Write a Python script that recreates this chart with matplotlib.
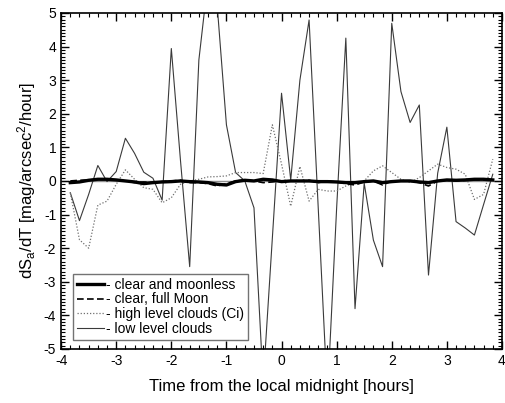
import numpy as np
import matplotlib
matplotlib.use("Agg")
import matplotlib.pyplot as plt
from matplotlib.ticker import MultipleLocator

# =====================================================================
# DADOS - amostras a cada 10 min
# =====================================================================
minutes = [-230, -220, -210, -200, -190, -180, -170, -160, -150, -140,
           -130, -120, -110, -100, -90, -80, -70, -60, -50, -40,
           -30, -20, -10, 0, 10, 20, 30, 40, 50, 60,
           70, 80, 90, 100, 110, 120, 130, 140, 150, 160,
           170, 180, 190, 200, 210, 220, 230]

clear_moonless = [-0.05, -0.03, 0.02, 0.05, 0.05, 0.03, 0.0, -0.03, -0.08, -0.05,
                  -0.03, -0.02, 0.0, -0.02, -0.03, -0.05, -0.1, -0.12, -0.02, 0.02,
                  0.0, 0.05, 0.03, -0.02, 0.0, 0.0, 0.0, -0.02, -0.02, -0.03,
                  -0.05, -0.05, -0.02, 0.0, -0.05, -0.02, 0.0, 0.0, -0.03, -0.05,
                  0.0, 0.03, 0.02, 0.03, 0.05, 0.05, 0.03]

clear_full_moon = [0.0, 0.02, 0.03, 0.05, 0.05, 0.03, 0.0, -0.05, -0.03, -0.05,
                   -0.02, 0.0, 0.02, -0.05, -0.05, -0.08, -0.15, -0.08, 0.0, 0.03,
                   0.0, -0.05, -0.03, 0.0, 0.0, 0.0, 0.02, -0.05, 0.0, -0.03,
                   -0.08, -0.12, -0.03, 0.0, -0.12, 0.0, 0.0, 0.0, -0.05, -0.15,
                   0.0, 0.02, 0.0, 0.02, 0.03, 0.03, 0.02]

high_clouds = [-0.35, -1.75, -2.0, -0.72, -0.6, -0.1, 0.33, 0.05, -0.2, -0.25,
               -0.65, -0.5, -0.1, 0.0, 0.05, 0.12, 0.13, 0.15, 0.25, 0.25,
               0.25, 0.22, 1.67, 0.5, -0.75, 0.43, -0.6, -0.25, -0.3, -0.3,
               -0.15, -0.05, 0.0, 0.3, 0.45, 0.25, 0.05, -0.05, 0.1, 0.3,
               0.5, 0.4, 0.35, 0.2, -0.55, -0.4, 0.65]

low_clouds = [-0.35, -1.18, -0.4, 0.46, -0.02, 0.28, 1.27, 0.82, 0.26, 0.08,
              -0.57, 3.94, 0.6, -2.55, 3.6, 6.0, 5.2, 1.67, 0.25, 0.0,
              -0.8, -6.0, -1.7, 2.61, 0.03, 3.0, 4.79, -0.83, -6.4, -0.8,
              4.25, -3.8, -0.07, -1.76, -2.55, 4.69, 2.66, 1.74, 2.26, -2.8,
              0.23, 1.6, -1.21, -1.4, -1.61, -0.7, 0.2]

hours = np.array(minutes) / 60.0

# =====================================================================
# ESTILO
# =====================================================================
plt.rcParams["font.family"] = ["Liberation Sans", "DejaVu Sans"]
plt.rcParams["mathtext.default"] = "regular"
plt.rcParams["axes.unicode_minus"] = False

fig = plt.figure(figsize=(5.05, 4.03), dpi=100)
ax = fig.add_axes([0.121, 0.134, 0.873, 0.834])

ax.axhline(0, color="#909090", lw=1.0, zorder=1)

ax.plot(hours, low_clouds, color="#3a3a3a", lw=0.8, ls="-", label="- low level clouds", zorder=2)
ax.plot(hours, high_clouds, color="#707070", lw=0.9, ls=(0, (1, 1.5)),
        label="- high level clouds (Ci)", zorder=3)
ax.plot(hours, clear_full_moon, color="black", lw=1.2, ls=(0, (4, 2)),
        label="- clear, full Moon", zorder=4)
ax.plot(hours, clear_moonless, color="black", lw=2.4, ls="-",
        label="- clear and moonless", zorder=5)

ax.set_xlim(-4, 4)
ax.set_ylim(-5, 5)
ax.xaxis.set_major_locator(MultipleLocator(1))
ax.xaxis.set_minor_locator(MultipleLocator(1 / 6))
ax.yaxis.set_major_locator(MultipleLocator(1))
ax.yaxis.set_minor_locator(MultipleLocator(0.1))
ax.tick_params(which="both", direction="in", top=True, right=True, labelsize=10)
ax.tick_params(which="major", length=6, width=1)
ax.tick_params(which="minor", length=3, width=0.8)
for s in ax.spines.values():
    s.set_linewidth(1.2)

ax.set_xlabel("Time from the local midnight [hours]", fontsize=12, labelpad=8)
ax.set_ylabel("dS$_a$/dT [mag/arcsec$^2$/hour]", fontsize=12, labelpad=4)

# ordem da legenda igual a da figura
handles, labels = ax.get_legend_handles_labels()
order = [3, 2, 1, 0]
leg = ax.legend([handles[i] for i in order], [labels[i] for i in order],
                loc="lower left", bbox_to_anchor=(0.027, 0.027), borderaxespad=0,
                fontsize=10, frameon=True, fancybox=False, handlelength=1.9,
                handletextpad=0.15, labelspacing=0.05, borderpad=0.3)
leg.get_frame().set_edgecolor("#505050")
leg.get_frame().set_linewidth(1.0)

fig.savefig("out.png", dpi=100)
